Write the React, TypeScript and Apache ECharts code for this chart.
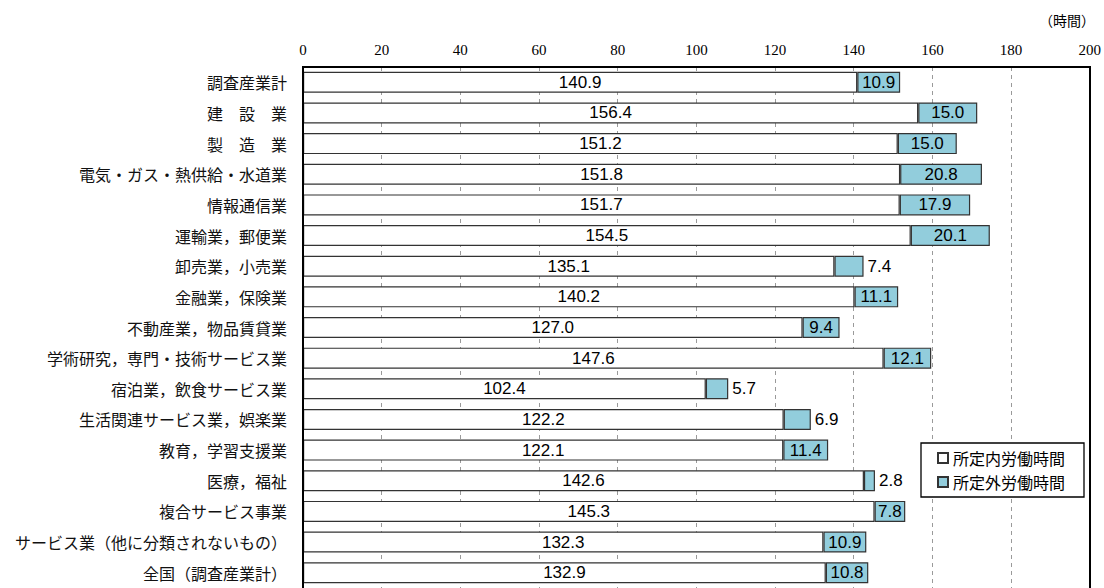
import React, { useEffect, useRef } from "react";
import * as echarts from "echarts";

const categories = [
  "調査産業計",
  "建　設　業",
  "製　造　業",
  "電気・ガス・熱供給・水道業",
  "情報通信業",
  "運輸業，郵便業",
  "卸売業，小売業",
  "金融業，保険業",
  "不動産業，物品賃貸業",
  "学術研究，専門・技術サービス業",
  "宿泊業，飲食サービス業",
  "生活関連サービス業，娯楽業",
  "教育，学習支援業",
  "医療，福祉",
  "複合サービス事業",
  "サービス業（他に分類されないもの）",
  "全国（調査産業計）",
];

const scheduledHours = [
  140.9, 156.4, 151.2, 151.8, 151.7, 154.5, 135.1, 140.2, 127.0, 147.6, 102.4,
  122.2, 122.1, 142.6, 145.3, 132.3, 132.9,
];

const overtimeHours = [
  10.9, 15.0, 15.0, 20.8, 17.9, 20.1, 7.4, 11.1, 9.4, 12.1, 5.7, 6.9, 11.4, 2.8,
  7.8, 10.9, 10.8,
];

const xTicks = { min: 0, max: 200, interval: 20 };
const seriesNames = ["所定内労働時間", "所定外労働時間"];
const unitLabel = "（時間）";

const JP = "'Noto Sans CJK JP', 'Noto Sans', sans-serif";
const SERIF = "'Liberation Serif', 'DejaVu Serif', serif";
const SANS = "'Liberation Sans', Arial, sans-serif";

export default function App() {
  const ref = useRef<HTMLDivElement>(null);

  useEffect(() => {
    if (!ref.current) return;
    const chart = echarts.init(ref.current, undefined, { renderer: "svg" });
    const gridLeft = 303;
    const gridTop = 67;
    const gridWidth = 787;
    const gridHeight = 527;

    const valueLabel = {
      show: true,
      color: "#000",
      fontFamily: SANS,
      fontSize: 17,
      formatter: (p: any) => Number(p.value).toFixed(1),
    };

    const overtimeData = overtimeHours.map((v) => {
      const inside = v >= 7.5;
      return {
        value: v,
        label: inside
          ? { position: "inside" }
          : { position: "right", distance: 4 },
      };
    });

    chart.setOption({
      animation: false,
      backgroundColor: "#fff",
      grid: {
        left: gridLeft,
        top: gridTop,
        width: gridWidth,
        height: gridHeight,
        containLabel: false,
      },
      xAxis: {
        type: "value",
        position: "top",
        min: xTicks.min,
        max: xTicks.max,
        interval: xTicks.interval,
        axisLine: { show: false },
        axisTick: { show: false },
        axisLabel: {
          color: "#000",
          fontFamily: SERIF,
          fontSize: 15,
          margin: 10,
        },
        splitLine: {
          show: true,
          lineStyle: { color: "#9a9a9a", type: [4, 4], width: 1 },
        },
      },
      yAxis: {
        type: "category",
        inverse: true,
        data: categories,
        axisLine: { show: false },
        axisTick: { show: false },
        axisLabel: {
          color: "#111",
          fontFamily: JP,
          fontSize: 16,
          margin: 16,
        },
      },
      legend: {
        orient: "vertical",
        left: 921,
        top: 443,
        data: seriesNames,
        backgroundColor: "#fff",
        borderColor: "#000",
        borderWidth: 1.3,
        padding: [7, 19, 7, 16],
        itemGap: 8,
        itemWidth: 10,
        itemHeight: 10,
        itemTextGap: 5,
        icon: "rect",
        textStyle: { color: "#000", fontFamily: JP, fontSize: 16 },
        z: 10,
      },
      graphic: [
        {
          type: "rect",
          z: 100,
          shape: { x: gridLeft, y: gridTop, width: gridWidth, height: gridHeight },
          style: { fill: "none", stroke: "#000", lineWidth: 2 },
          silent: true,
        },
        {
          type: "text",
          right: 9,
          top: 13,
          style: {
            text: unitLabel,
            fill: "#000",
            font: `14px ${JP}`,
          },
        },
      ],
      series: [
        {
          name: seriesNames[0],
          type: "bar",
          stack: "total",
          barWidth: 21,
          data: scheduledHours,
          itemStyle: { color: "#fff", borderColor: "#333", borderWidth: 1.2 },
          label: { ...valueLabel, position: "inside" },
        },
        {
          name: seriesNames[1],
          type: "bar",
          stack: "total",
          barWidth: 21,
          data: overtimeData,
          itemStyle: { color: "#92CDDC", borderColor: "#333", borderWidth: 1.2 },
          label: { ...valueLabel },
        },
      ],
    });

    return () => chart.dispose();
  }, []);

  return (
    <div
      ref={ref}
      style={{ position: "absolute", left: 0, top: 0, width: 1104, height: 588 }}
    />
  );
}
